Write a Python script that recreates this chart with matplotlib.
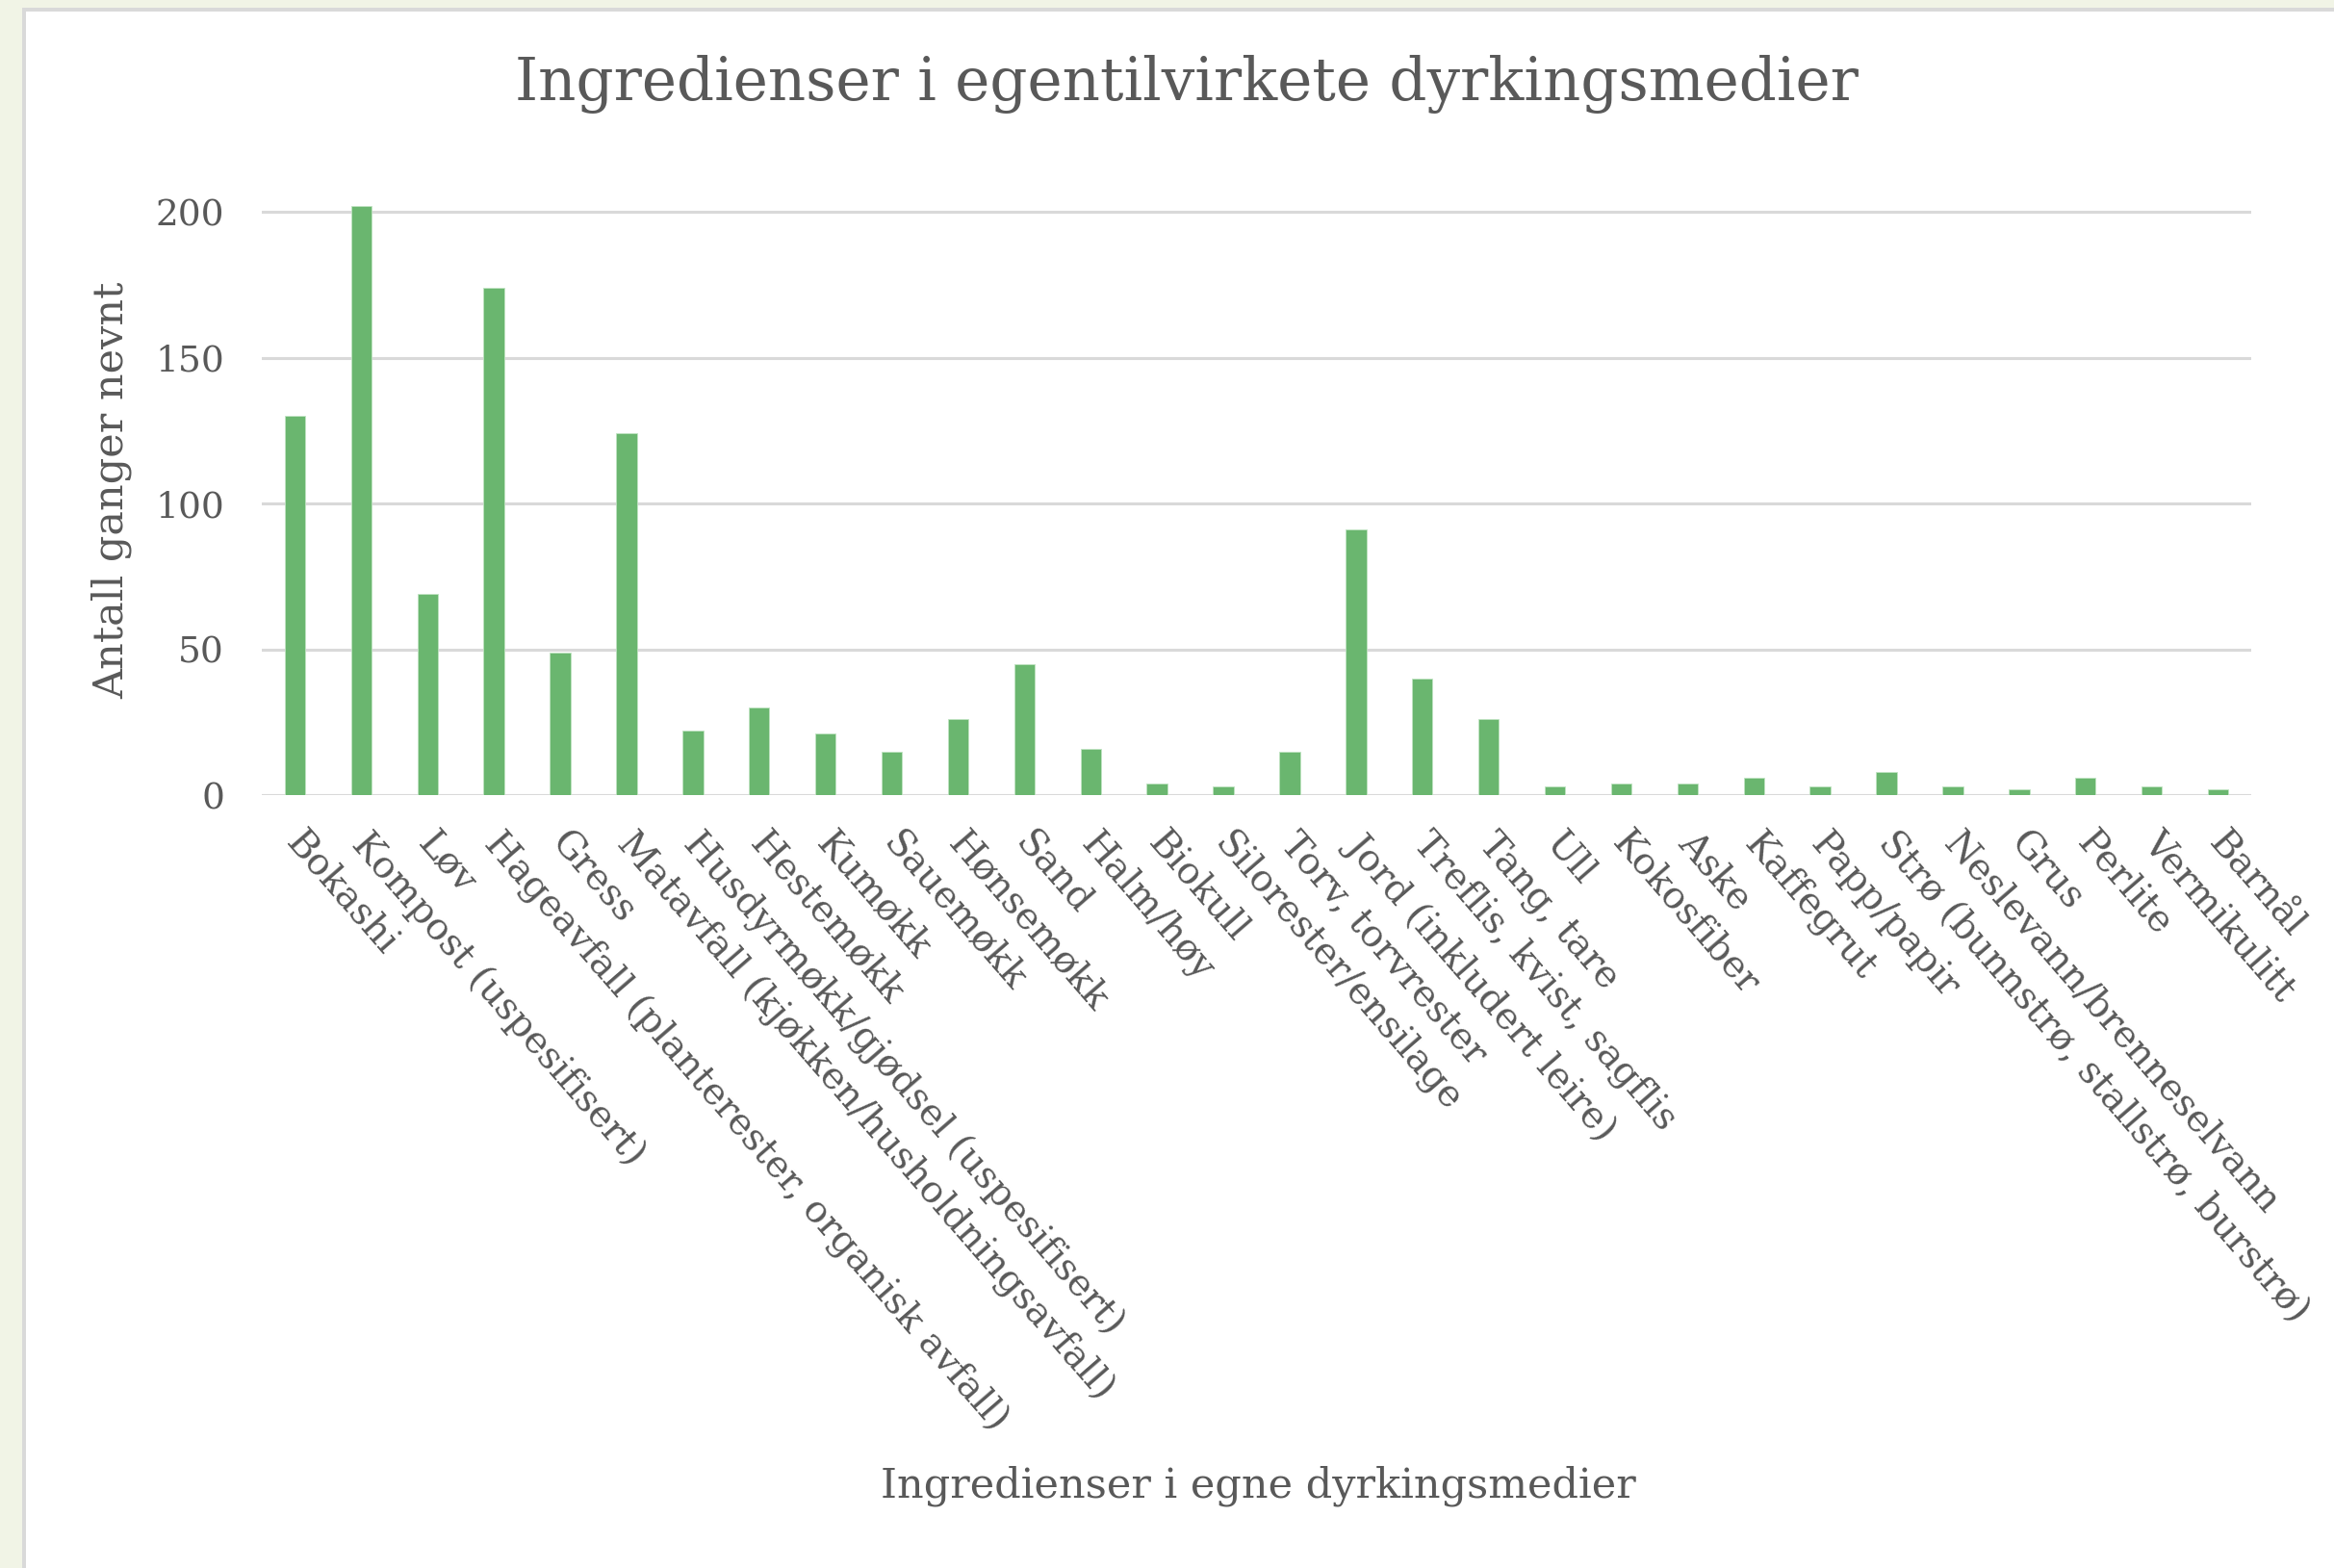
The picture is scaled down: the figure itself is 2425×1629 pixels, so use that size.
import matplotlib
matplotlib.use("Agg")
import matplotlib.pyplot as plt
from matplotlib.patches import Rectangle
from matplotlib.transforms import ScaledTranslation

# Data
categories = [
    "Bokashi",
    "Kompost (uspesifisert)",
    "Løv",
    "Hageavfall (planterester, organisk avfall)",
    "Gress",
    "Matavfall (kjøkken/husholdningsavfall)",
    "Husdyrmøkk/gjødsel (uspesifisert)",
    "Hestemøkk",
    "Kumøkk",
    "Sauemøkk",
    "Hønsemøkk",
    "Sand",
    "Halm/høy",
    "Biokull",
    "Silorester/ensilage",
    "Torv, torvrester",
    "Jord (inkludert leire)",
    "Treflis, kvist, sagflis",
    "Tang, tare",
    "Ull",
    "Kokosfiber",
    "Aske",
    "Kaffegrut",
    "Papp/papir",
    "Strø (bunnstrø, stallstrø, burstrø)",
    "Neslevann/brenneselvann",
    "Grus",
    "Perlite",
    "Vermikulitt",
    "Barnål",
]
counts = [130, 202, 69, 174, 49, 124, 22, 30, 21, 15, 26, 45, 16, 4, 3,
          15, 91, 40, 26, 3, 4, 4, 6, 3, 8, 3, 2, 6, 3, 2]
y_ticks = [0, 50, 100, 150, 200]

title = "Ingredienser i egentilvirkete dyrkingsmedier"
x_title = "Ingredienser i egne dyrkingsmedier"
y_title = "Antall ganger nevnt"

text_color = "#595959"
bar_color = "#6AB66F"
grid_color = "#D9D9D9"

plt.rcParams["font.family"] = ["DejaVu Serif", "DejaVu Sans"]

W, H = 2425, 1629
fig = plt.figure(figsize=(W / 100, H / 100), dpi=100)
fig.patch.set_facecolor("white")

# frame of the screenshot: pale green margin + grey shadow
fig.add_artist(Rectangle((0, 0), 23 / W, 1, transform=fig.transFigure,
                         facecolor="#F1F4E6", edgecolor="none", zorder=0))
fig.add_artist(Rectangle((0, 1 - 8 / H), 1, 8 / H, transform=fig.transFigure,
                         facecolor="#F1F4E6", edgecolor="none", zorder=0))
fig.add_artist(Rectangle((23 / W, 0), 4 / W, 1 - 8 / H, transform=fig.transFigure,
                         facecolor=grid_color, edgecolor="none", zorder=0))
fig.add_artist(Rectangle((23 / W, 1 - 12 / H), 1, 4 / H, transform=fig.transFigure,
                         facecolor=grid_color, edgecolor="none", zorder=0))

ax = fig.add_axes([272 / W, 1 - 826 / H, (2339 - 272) / W, 636 / H])
ax.set_facecolor("none")

x = list(range(len(categories)))
ax.bar(x, counts, width=0.31, color=bar_color, edgecolor="#BFE3C1",
       linewidth=0.6, zorder=3)

ax.set_xlim(-0.5, len(categories) - 0.5)
ax.set_ylim(0, 210)
ax.set_yticks(y_ticks)
ax.set_yticklabels([str(v) for v in y_ticks])
ax.grid(axis="y", color=grid_color, linewidth=2.2, zorder=0)
ax.set_axisbelow(True)
for s in ax.spines.values():
    s.set_visible(False)

ax.tick_params(axis="y", length=0, pad=28, labelsize=27, labelcolor=text_color)
ax.tick_params(axis="x", length=0, pad=23, labelsize=28, labelcolor=text_color)
ax.set_xticks(x)
ax.set_xticklabels(categories, rotation=-49, ha="left", va="top",
                   rotation_mode="anchor")
# nudge the slanted labels a little to the right
shift = ScaledTranslation(0.11, 0, fig.dpi_scale_trans)
for lbl in ax.get_xticklabels():
    lbl.set_transform(lbl.get_transform() + shift)

fig.text(0.5085, 1 - 88 / H, title, ha="center", va="center",
         fontsize=44, color=text_color)
fig.text(1307 / W, 1 - 1544 / H, x_title, ha="center", va="center",
         fontsize=31, color=text_color)
fig.text(116 / W, 1 - 509 / H, y_title, ha="center", va="center",
         rotation=90, fontsize=31, color=text_color)

fig.savefig("out.png", dpi=100, facecolor=fig.get_facecolor())
